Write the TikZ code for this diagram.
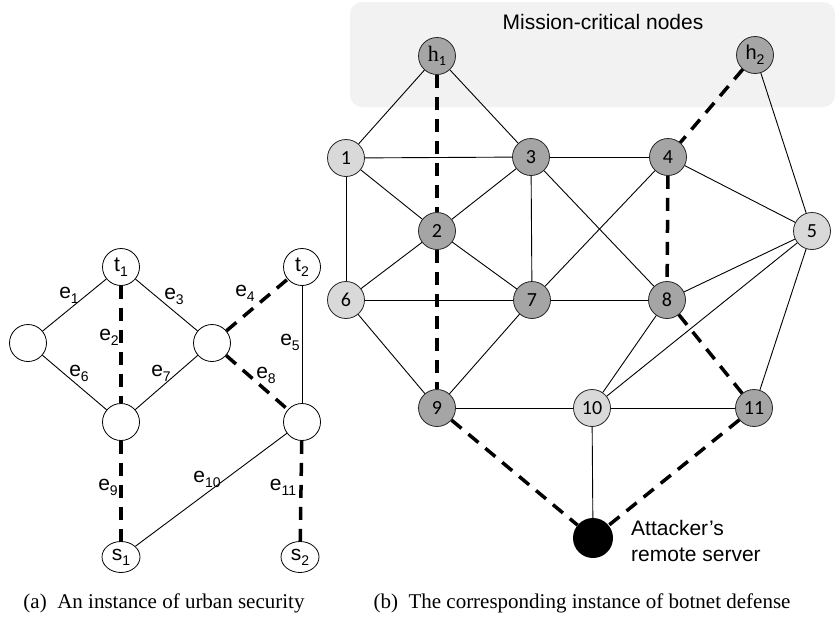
\documentclass[tikz,border=0pt]{standalone}
\usepackage{fontspec}
\setmainfont{Liberation Sans}
\newfontfamily\capfont{Liberation Serif}
\newfontfamily\numfont{Carlito}
\usetikzlibrary{shapes.geometric}
\definecolor{dgray}{HTML}{A5A5A5}
\definecolor{lgray}{HTML}{D9D9D9}
\definecolor{boxgray}{HTML}{F2F2F2}
\newcommand\sbs[1]{\raisebox{-0.45ex}{\fontsize{14}{14}\selectfont #1}}
\begin{document}
\begin{tikzpicture}[x=1pt,y=-1pt,
  lnode/.style={circle,draw=black,line width=0.8pt,fill=white,minimum size=37pt,inner sep=0pt,font=\fontsize{21}{21}\selectfont},
  snode/.style={ellipse,draw=black,line width=0.8pt,fill=white,minimum width=38pt,minimum height=31pt,inner sep=0pt,font=\fontsize{21}{21}\selectfont},
  dnode/.style={circle,draw=black!85,line width=0.8pt,fill=dgray,minimum size=37pt,inner sep=0pt,font=\numfont\fontsize{20}{20}\selectfont},
  lgnode/.style={dnode,fill=lgray},
  thinedge/.style={line width=0.9pt},
  cut/.style={line width=3.5pt,dash pattern=on 13pt off 9pt},
  elabel/.style={font=\fontsize{21}{21}\selectfont,inner sep=0pt},
  captext/.style={font=\capfont\fontsize{21}{21}\selectfont,inner sep=0pt}
]
\path[use as bounding box] (0,0) rectangle (835,621);

% ---------- (a) ----------
\node[lnode] (t1) at (121,267) {t\sbs{1}};
\node[lnode] (t2) at (302,267) {t\sbs{2}};
\node[lnode] (L) at (28,343) {};
\node[lnode] (M) at (212,343) {};
\node[lnode] (B1) at (121,422) {};
\node[lnode] (B2) at (302,422) {};
\node[snode] (s1) at (121,557) {s\sbs{1}};
\node[snode] (s2) at (300,557) {s\sbs{2}};

\draw[thinedge] (t1) -- (L);
\draw[cut] (t1) -- (B1);
\draw[thinedge] (t1) -- (M);
\draw[cut] (M) -- (t2);
\draw[thinedge] (t2) -- (B2);
\draw[thinedge] (L) -- (B1);
\draw[thinedge] (M) -- (B1);
\draw[cut] (M) -- (B2);
\draw[cut] (B1) -- (s1);
\draw[thinedge] (B2) -- (s1);
\draw[cut] (B2) -- (s2);

\node[elabel] (le1) at (69,295) {e\sbs{1}};
\node[elabel] (le2) at (109,337) {e\sbs{2}};
\node[elabel] (le3) at (174,296) {e\sbs{3}};
\node[elabel] (le4) at (245,293) {e\sbs{4}};
\node[elabel] (le5) at (290,342) {e\sbs{5}};
\node[elabel] (le6) at (79,373) {e\sbs{6}};
\node[elabel] (le7) at (161,373) {e\sbs{7}};
\node[elabel] (le8) at (266,375) {e\sbs{8}};
\node[elabel] (le9) at (108,487) {e\sbs{9}};
\node[elabel] (le10) at (207,479) {e\sbs{10}};
\node[elabel] (le11) at (283,487) {e\sbs{11}};

\node[captext] (capa) at (164,603) {(a)\hspace{0.5em}An instance of urban security};

% ---------- (b) ----------
\fill[boxgray,rounded corners=12pt] (350,2) rectangle (835,107);
\node[font=\fontsize{21}{21}\selectfont,inner sep=0pt] (mc) at (603,22) {Mission-critical nodes};

\node[dnode] (h1) at (437,56) {{\capfont\fontsize{22}{22}\selectfont h}\sbs{1}};
\node[dnode,font=\fontsize{20}{20}\selectfont] (h2) at (755,55) {h\sbs{2}};
\node[lgnode] (n1) at (346,158) {1};
\node[dnode] (n3) at (531,157) {3};
\node[dnode] (n4) at (668,157) {4};
\node[dnode] (n2) at (437,231) {2};
\node[lgnode] (n5) at (812,231) {5};
\node[lgnode] (n6) at (346,300) {6};
\node[dnode] (n7) at (532,300) {7};
\node[dnode] (n8) at (667,300) {8};
\node[dnode] (n9) at (437,408) {9};
\node[lgnode] (n10) at (592,408) {10};
\node[dnode] (n11) at (754,408) {11};
\node[circle,fill=black,minimum size=40pt,inner sep=0pt] (A) at (593,538) {};

\draw[thinedge] (h1) -- (n1);
\draw[thinedge] (h1) -- (n3);
\draw[cut] (h1) -- (n2);
\draw[cut] (h2) -- (n4);
\draw[thinedge] (h2) -- (n5);
\draw[thinedge] (n1) -- (n3);
\draw[thinedge] (n3) -- (n4);
\draw[thinedge] (n1) -- (n2);
\draw[thinedge] (n1) -- (n6);
\draw[thinedge] (n3) -- (n2);
\draw[thinedge] (n3) -- (n7);
\draw[thinedge] (n3) -- (n8);
\draw[thinedge] (n4) -- (n7);
\draw[thinedge] (n4) -- (n5);
\draw[cut] (n4) -- (n8);
\draw[thinedge] (n2) -- (n6);
\draw[thinedge] (n2) -- (n7);
\draw[cut] (n2) -- (n9);
\draw[thinedge] (n6) -- (n7);
\draw[thinedge] (n7) -- (n8);
\draw[thinedge] (n6) -- (n9);
\draw[thinedge] (n7) -- (n9);
\draw[thinedge] (n8) -- (n5);
\draw[thinedge] (n8) -- (n10);
\draw[cut] (n8) -- (n11);
\draw[thinedge] (n5) -- (n10);
\draw[thinedge] (n5) -- (n11);
\draw[thinedge] (n9) -- (n10);
\draw[thinedge] (n10) -- (n11);
\draw[cut] (n9) -- (A);
\draw[thinedge] (n10) -- (A);
\draw[cut] (n11) -- (A);

\node[anchor=west,align=left,font=\fontsize{21}{26}\selectfont,inner sep=0pt] (atext) at (631,541) {Attacker’s\\remote server};

\node[captext] (capb) at (582,603) {(b)\hspace{0.5em}The corresponding instance of botnet defense};
\end{tikzpicture}
\end{document}
